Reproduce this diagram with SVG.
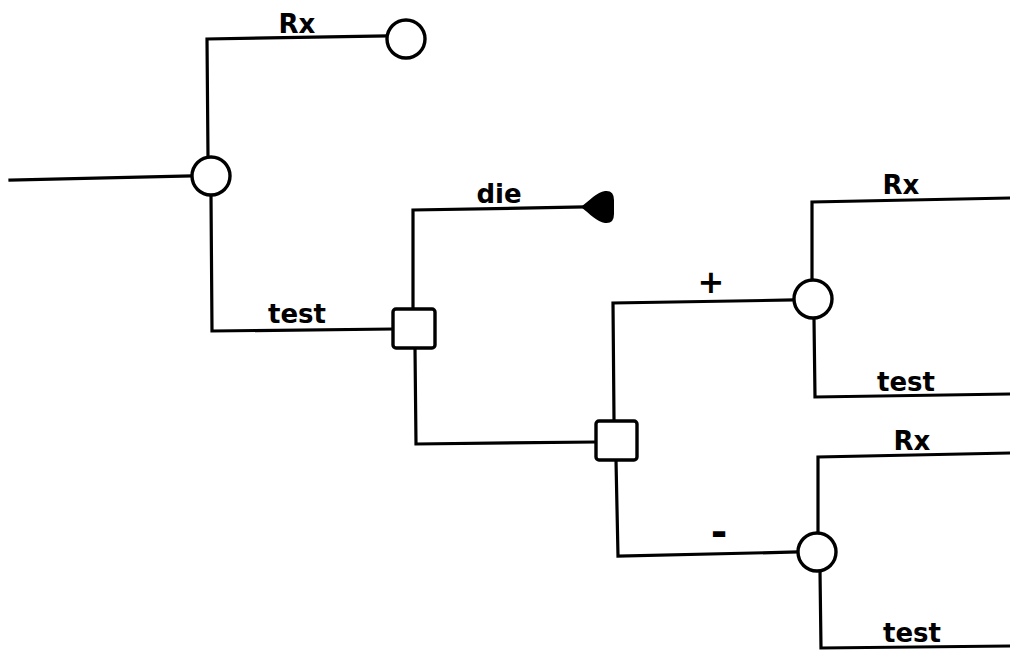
<svg xmlns="http://www.w3.org/2000/svg" width="1010" height="652" viewBox="0 0 1010 652">
<style>
.ln{fill:none;stroke:#000;stroke-width:3.2;stroke-linejoin:miter;stroke-linecap:square}
.nd{fill:#fff;stroke:#000;stroke-width:3.4}
.lb{font-family:"DejaVu Sans","Liberation Sans",Arial,sans-serif;font-weight:bold;font-size:26px;text-anchor:middle;fill:#000}
</style>
<rect width="1010" height="652" fill="#fff"/>
<g id="connectors">
<path class="ln" d="M10,180 L191,176"/>
<path class="ln" d="M208,157 L207,39 L387,36"/>
<path class="ln" d="M211,195 L212,331 L392,329"/>
<path class="ln" d="M413,308 L413,210 L584,207"/>
<path class="ln" d="M415,348 L416,444 L595,442"/>
<path class="ln" d="M614,420 L613,303 L793,300"/>
<path class="ln" d="M616,460 L618,556 L797,552"/>
<path class="ln" d="M812,281 L812,202 L1010,198"/>
<path class="ln" d="M814,319 L815,397 L1010,394"/>
<path class="ln" d="M818,533 L818,457 L1010,453"/>
<path class="ln" d="M820,571 L821,648 L1010,646"/>
</g>
<g id="n1"><circle class="nd" cx="211" cy="176" r="19"/></g>
<g id="n2"><circle class="nd" cx="406" cy="39" r="19"/></g>
<g id="n3"><rect class="nd" x="393" y="309" width="42" height="39" rx="3"/></g>
<g id="n4"><path d="M581,207 C590,200 597,192 605,191 Q614,190 614,200 L614,214 Q614,224 605,223 C597,222 590,214 581,207 Z" fill="#000"/></g>
<g id="n5"><rect class="nd" x="596" y="421" width="41" height="39" rx="3"/></g>
<g id="n6"><circle class="nd" cx="813" cy="299" r="19"/></g>
<g id="n7"><circle class="nd" cx="817" cy="552" r="19"/></g>
<g id="labels">
<text class="lb" x="297" y="33">Rx</text>
<text class="lb" x="297" y="323">test</text>
<text class="lb" x="499" y="203">die</text>
<text class="lb" x="711" y="293" style="font-size:32px">+</text>
<text class="lb" x="719" y="546" style="font-size:40px">-</text>
<text class="lb" x="901" y="194">Rx</text>
<text class="lb" x="906" y="391">test</text>
<text class="lb" x="912" y="450">Rx</text>
<text class="lb" x="912" y="642">test</text>
</g>
</svg>
